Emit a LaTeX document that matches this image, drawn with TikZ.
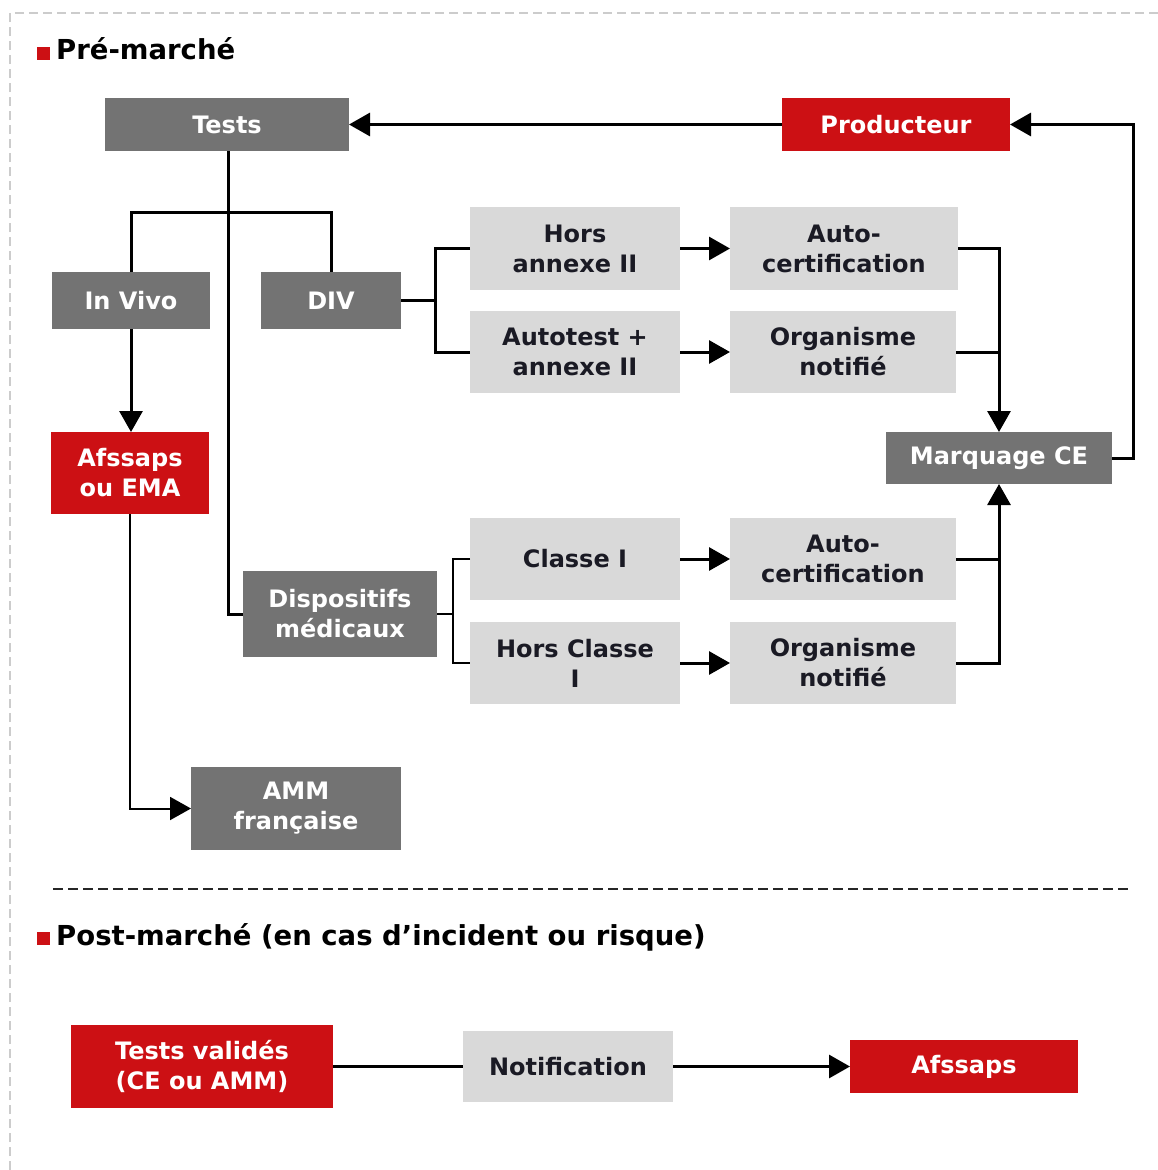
\documentclass[tikz,border=0pt]{standalone}
\usepackage{fontspec}
\setmainfont{DejaVu Sans}
\usepackage{tikz}
\usetikzlibrary{arrows.meta}

\definecolor{redbox}{HTML}{CC1014}
\definecolor{darkbox}{HTML}{737373}
\definecolor{lightbox}{HTML}{D9D9D9}
\definecolor{boxtext}{HTML}{1A1A24}

\begin{document}
\begin{tikzpicture}[x=1pt,y=-1pt,
  box/.style={rectangle, inner sep=0pt, outer sep=0pt, align=center,
    font=\fontsize{24}{30}\selectfont\bfseries},
  dark/.style={box, fill=darkbox, text=white},
  light/.style={box, fill=lightbox, text=boxtext},
  red/.style={box, fill=redbox, text=white},
  ln/.style={line width=3pt},
  thinln/.style={line width=2pt},
  arr/.style={line width=3pt, -{Triangle[length=21pt,width=23pt]}},
  title/.style={anchor=west, inner sep=0pt, font=\fontsize{27.5}{30}\selectfont\bfseries}]
\useasboundingbox (0,0) rectangle (1158,1170);
%% Frame
\draw[gray!40, line width=1.5pt, dash pattern=on 9pt off 5pt] (10,1170) -- (10,13) -- (1158,13);
\draw[black!85, line width=1.8pt, dash pattern=on 10pt off 5pt] (53,889) -- (1130,889);
%% Titles
\node[title] (pre) at (37,49) {\textcolor{redbox}{\rule{13pt}{13pt}}\hspace{6pt}Pré-marché};
\node[title] (post) at (37,937) {\textcolor{redbox}{\rule{13pt}{13pt}}\hspace{6pt}Post-marché (en cas d’incident ou risque)};
%% Pre-market boxes
\node[dark, minimum width=244pt, minimum height=53pt] (tests) at (227,124.5) {Tests};
\node[red, minimum width=228pt, minimum height=53pt] (prod) at (896,124.5) {Producteur};
\node[dark, minimum width=158pt, minimum height=57pt] (invivo) at (131,300.5) {In Vivo};
\node[dark, minimum width=140pt, minimum height=57pt] (div) at (331,300.5) {DIV};
\node[light, minimum width=210pt, minimum height=83pt] (horsII) at (575,248.5) {Hors\\annexe II};
\node[light, minimum width=210pt, minimum height=82pt] (autoII) at (575,352) {Autotest +\\annexe II};
\node[light, minimum width=228pt, minimum height=83pt] (auto1) at (844,248.5) {Auto-\\certification};
\node[light, minimum width=226pt, minimum height=82pt] (org1) at (843,352) {Organisme\\notifié};
\node[dark, minimum width=226pt, minimum height=52pt] (marq) at (999,458) {Marquage CE};
\node[red, minimum width=158pt, minimum height=82pt] (afssaps) at (130,473) {Afssaps\\ou EMA};
\node[dark, minimum width=194pt, minimum height=86pt] (dispo) at (340,614) {Dispositifs\\médicaux};
\node[light, minimum width=210pt, minimum height=82pt] (classe) at (575,559) {Classe I};
\node[light, minimum width=210pt, minimum height=82pt] (hclasse) at (575,663) {Hors Classe\\I};
\node[light, minimum width=226pt, minimum height=82pt] (auto2) at (843,559) {Auto-\\certification};
\node[light, minimum width=226pt, minimum height=82pt] (org2) at (843,663) {Organisme\\notifié};
\node[dark, minimum width=210pt, minimum height=83pt] (amm) at (296,808.5) {AMM\\française};
%% Post-market boxes
\node[red, minimum width=262pt, minimum height=83pt] (valid) at (202,1066.5) {Tests validés\\(CE ou AMM)};
\node[light, minimum width=210pt, minimum height=71pt] (notif) at (568,1066.5) {Notification};
\node[red, minimum width=228pt, minimum height=53pt] (afs) at (964,1066.5) {Afssaps};
%% Connectors
\coordinate (fork) at (228,212);
\coordinate (divj) at (435,300.5);
\coordinate (dispoj) at (453,614);
\draw[arr] (prod) -- (tests);
\draw[ln] (tests.south -| fork) -- (fork);
\draw[ln] (invivo.north) |- (fork) -| (div.north);
\draw[ln] (fork) |- (dispo.west);
\draw[arr] (invivo.south) -- (invivo.south |- afssaps.north);
\draw[thinln, -{Triangle[length=21pt,width=23pt]}] (afssaps.south) |- (amm.west);
%% DIV branch
\draw[ln] (div.east) -- (divj);
\draw[ln] (horsII.west) -| (divj) |- (autoII.west);
\draw[arr] (horsII) -- (auto1);
\draw[arr] (autoII) -- (org1);
\draw[arr] (auto1.east) -| (marq.north);
\draw[ln] (org1.east) -- (org1.east -| marq.north);
\draw[arr] (marq.east) -- ++(21,0) |- (prod.east);
%% Dispositifs branch
\draw[thinln] (dispo.east) -- (dispoj);
\draw[thinln] (classe.west) -| (dispoj) |- (hclasse.west);
\draw[arr] (classe) -- (auto2);
\draw[arr] (hclasse) -- (org2);
\draw[arr] (org2.east) -| (marq.south);
\draw[ln] (auto2.east) -- (auto2.east -| marq.south);
%% Post-market chain
\draw[ln] (valid) -- (notif);
\draw[arr] (notif) -- (afs);
\end{tikzpicture}
\end{document}
